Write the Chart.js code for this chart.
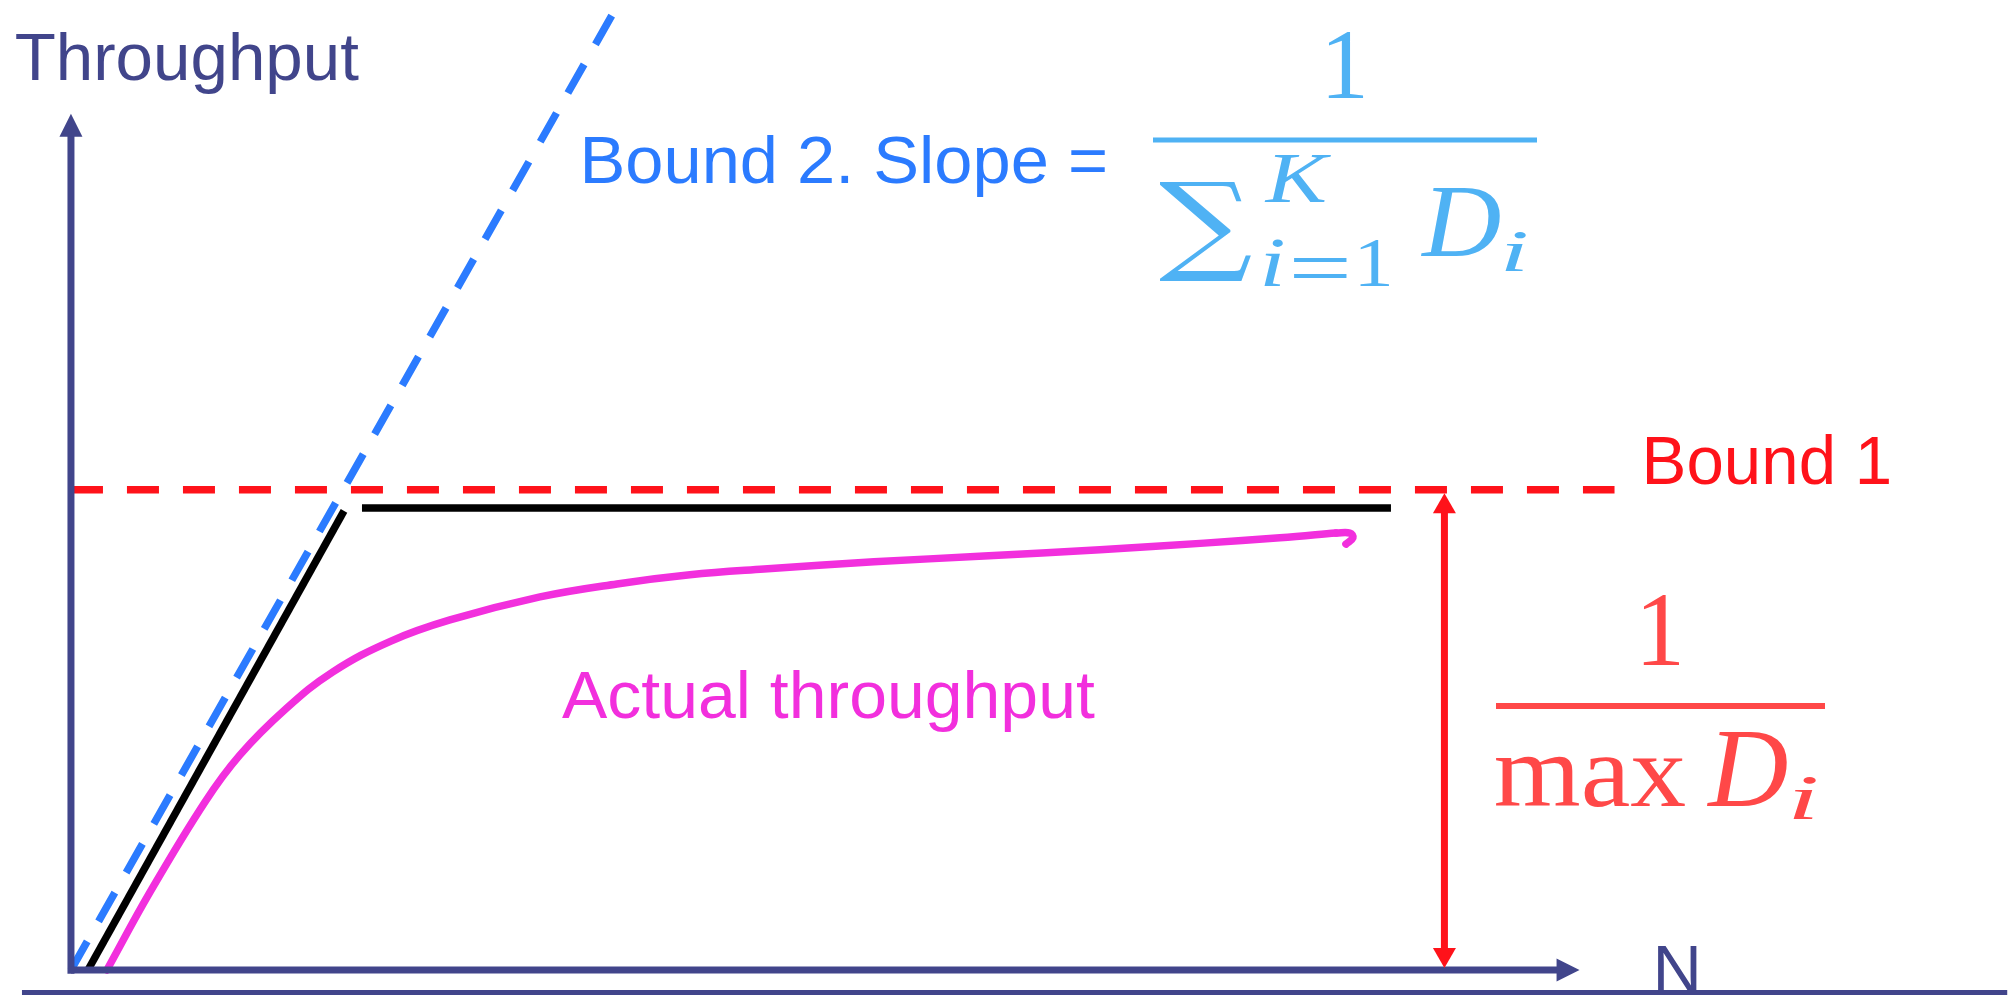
<!DOCTYPE html>
<html><head><meta charset="utf-8">
<script src="https://cdn.jsdelivr.net/npm/chart.js@4.4.1/dist/chart.umd.min.js"></script>
<style>html,body{margin:0;padding:0;background:#fff;overflow:hidden}#wrap{position:relative;width:2015px;height:995px}</style>
</head><body><div id="wrap"><canvas id="c"></canvas></div>
<script>
// ---------- data (N on x, throughput on y; Bound 1 level = 1) ----------
const bound1N = [0, 15.88];
const bound1T = [1.0, 1.0];
const bound2N = [0, 5.57];
const bound2T = [0, 1.99];
const asymRiseN = [0.175, 2.809];
const asymRiseT = [0, 0.956];
const asymFlatN = [2.994, 13.58];
const asymFlatT = [0.962, 0.962];
const actualN = [0.370, 0.813, 1.379, 1.739, 2.212, 2.695, 3.292, 3.899, 4.825, 5.617, 6.368, 7.130, 8.261, 9.393, 10.586, 11.656, 12.438, 13.014];
const actualT = [0, 0.162, 0.350, 0.448, 0.544, 0.621, 0.685, 0.729, 0.777, 0.804, 0.823, 0.835, 0.850, 0.862, 0.875, 0.889, 0.900, 0.910];
const hookN = [13.014, 13.158, 13.189, 13.117];
const hookT = [0.910, 0.910, 0.900, 0.887];
const baseLineN = [-0.504, 19.92];
const baseLineT = [-0.047, -0.047];
const yAxisN = [0, 0];
const yAxisT = [-0.008, 1.783];
const xAxisN = [0, 15.52];
const xAxisT = [0, 0];
const spanN = [14.13, 14.13];
const spanT = [0.004, 0.993];

const labelYAxis = 'Throughput';
const labelXAxis = 'N';
const labelBound1 = 'Bound 1';
const labelBound2 = 'Bound 2. Slope =';
const labelActual = 'Actual throughput';

// ---------- helpers ----------
const pts = (xs, ys) => xs.map((x, i) => ({x: x, y: ys[i]}));
const NAVY = '#41458B', BLUE = '#2B7BFF', RED = '#FF121A', MAG = '#F22FDD';
const LBLUE = '#4FB2F4', LRED = '#FF4848';

function line(data, color, width, extra) {
  return Object.assign({data: data, borderColor: color, borderWidth: width, showLine: true,
    pointRadius: 0, fill: false, tension: 0, borderCapStyle: 'butt', clip: false}, extra || {});
}

function fitBox(ctx, text, font, color, x0, y0, x1, y1) {
  ctx.save();
  ctx.font = font;
  ctx.textAlign = 'left';
  ctx.textBaseline = 'alphabetic';
  const m = ctx.measureText(text);
  const L = m.actualBoundingBoxLeft, R = m.actualBoundingBoxRight;
  const A = m.actualBoundingBoxAscent, D = m.actualBoundingBoxDescent;
  ctx.translate(x0, y0);
  ctx.scale((x1 - x0) / (L + R), (y1 - y0) / (A + D));
  ctx.fillStyle = color;
  ctx.fillText(text, L, A);
  ctx.restore();
}

function arrow(ctx, sx, sy, xs, ys, color, lw, hw, hl, both) {
  const x0 = sx.getPixelForValue(xs[0]), y0 = sy.getPixelForValue(ys[0]);
  const x1 = sx.getPixelForValue(xs[1]), y1 = sy.getPixelForValue(ys[1]);
  const len = Math.hypot(x1 - x0, y1 - y0), ux = (x1 - x0) / len, uy = (y1 - y0) / len;
  const px = -uy, py = ux;
  ctx.save();
  ctx.strokeStyle = color; ctx.fillStyle = color; ctx.lineWidth = lw; ctx.lineCap = 'butt';
  ctx.beginPath();
  ctx.moveTo(x0 + (both ? ux * hl * 0.9 : 0), y0 + (both ? uy * hl * 0.9 : 0));
  ctx.lineTo(x1 - ux * hl * 0.9, y1 - uy * hl * 0.9);
  ctx.stroke();
  const head = (tx, ty, dx, dy) => {
    ctx.beginPath();
    ctx.moveTo(tx, ty);
    ctx.lineTo(tx - dx * hl + px * hw / 2, ty - dy * hl + py * hw / 2);
    ctx.lineTo(tx - dx * hl - px * hw / 2, ty - dy * hl - py * hw / 2);
    ctx.closePath(); ctx.fill();
  };
  head(x1, y1, ux, uy);
  if (both) head(x0, y0, -ux, -uy);
  ctx.restore();
}

const deco = {
  id: 'deco',
  afterDatasetsDraw(chart) {
    const ctx = chart.ctx, sx = chart.scales.x, sy = chart.scales.y;
    arrow(ctx, sx, sy, yAxisN, yAxisT, NAVY, 7, 23, 23, false);
    arrow(ctx, sx, sy, xAxisN, xAxisT, NAVY, 7, 23, 23, false);
    arrow(ctx, sx, sy, spanN, spanT, RED, 7, 23, 20, true);

    const SANS = "100px 'Liberation Sans', Arial, sans-serif";
    const SERIF = "100px 'Liberation Serif', 'Times New Roman', serif";
    const SERIF_I = "italic 100px 'Liberation Serif', 'Times New Roman', serif";
    const SUM = "100px 'DejaVu Serif', serif";
    fitBox(ctx, labelYAxis, SANS, NAVY, 16, 32, 359, 94);
    fitBox(ctx, labelXAxis, SANS, NAVY, 1658, 946, 1697, 992);
    fitBox(ctx, labelBound2, SANS, BLUE, 585, 134, 1105, 197);
    fitBox(ctx, labelBound1, SANS, RED, 1647, 434, 1889, 485);
    fitBox(ctx, labelActual, SANS, MAG, 562, 669, 1095, 732);

    // 1 / sum_{i=1}^K D_i
    fitBox(ctx, '1', SERIF, LBLUE, 1328, 33, 1363, 98);
    ctx.fillStyle = LBLUE; ctx.fillRect(1153, 137.5, 384, 5);
    fitBox(ctx, '\u2211', SUM, LBLUE, 1159, 182, 1252, 282);
    fitBox(ctx, 'K', SERIF_I, LBLUE, 1264, 155, 1331, 203);
    fitBox(ctx, 'i', SERIF_I, LBLUE, 1264, 240, 1283, 287);
    fitBox(ctx, '=', SERIF, LBLUE, 1293, 258, 1347, 278);
    fitBox(ctx, '1', SERIF, LBLUE, 1360, 240, 1389, 286);
    fitBox(ctx, 'D', SERIF_I, LBLUE, 1420, 188, 1500, 257);
    fitBox(ctx, 'i', SERIF_I, LBLUE, 1505, 233, 1526, 272);

    // 1 / max D_i
    fitBox(ctx, '1', SERIF, LRED, 1643, 595, 1679, 665);
    ctx.fillStyle = LRED; ctx.fillRect(1496, 703, 329, 6);
    fitBox(ctx, 'max', SERIF, LRED, 1496, 757, 1685, 807);
    fitBox(ctx, 'D', SERIF_I, LRED, 1706, 733, 1787, 807);
    fitBox(ctx, 'i', SERIF_I, LRED, 1793, 778, 1816, 820);
  }
};

new Chart(document.getElementById('c'), {
  type: 'scatter',
  data: {
    datasets: [
      line(pts(actualN, actualT), MAG, 7.5, {tension: 0.4, borderCapStyle: 'round', borderJoinStyle: 'round'}),
      line(pts(hookN, hookT), MAG, 7.5, {tension: 0.4, borderCapStyle: 'round', borderJoinStyle: 'round'}),
      line(pts(asymRiseN, asymRiseT), '#000000', 7.5),
      line(pts(asymFlatN, asymFlatT), '#000000', 7.5),
      line(pts(bound2N, bound2T), BLUE, 7.5, {borderDash: [33, 23]}),
      line(pts(bound1N, bound1T), RED, 7.5, {borderDash: [32, 24]}),
      line(pts(baseLineN, baseLineT), NAVY, 5)
    ]
  },
  options: {
    responsive: true,
    maintainAspectRatio: false,
    animation: false,
    events: [],
    layout: {padding: 0},
    plugins: {legend: {display: false}, tooltip: {enabled: false}, title: {display: false}},
    scales: {
      x: {type: 'linear', min: -0.73, max: 20, display: false},
      y: {type: 'linear', min: -0.052, max: 2.02, display: false}
    }
  },
  plugins: [deco]
});
</script>
</body></html>
